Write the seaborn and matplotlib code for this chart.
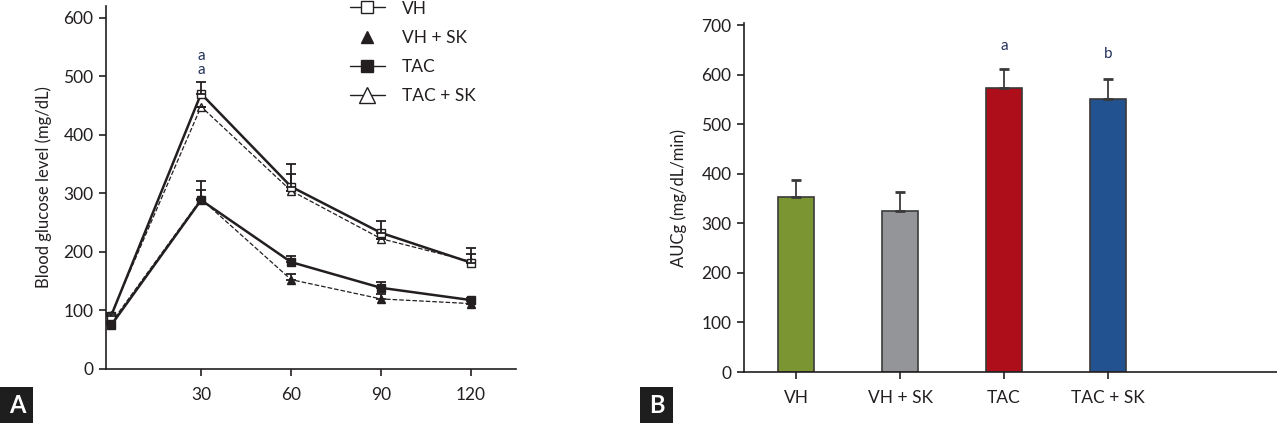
import numpy as np
import pandas as pd
import seaborn as sns
import matplotlib.pyplot as plt
from matplotlib.lines import Line2D
from matplotlib.patches import Rectangle

# Panel A: glucose tolerance curves
times = [0, 30, 60, 90, 120]
vh = [90, 470, 311, 232, 181]
vh_sk = [78, 290, 152, 119, 111]
tac = [74, 288, 182, 138, 117]
tac_sk = [92, 448, 304, 222, 183]
vh_err = [4, 20, 38, 20, 25]
vh_sk_err = [3, 15, 9, 9, 4]
tac_err = [3, 33, 10, 10, 4]
tac_sk_err = [3, 0, 29, 0, 12]

# Panel B: AUC
groups = ["VH", "VH + SK", "TAC", "TAC + SK"]
auc = [354, 325, 573, 551]
auc_err = [33, 38, 40, 40]
bar_colors = ["#7b9533", "#939598", "#ad0e1a", "#22528f"]
mark_groups = ["TAC", "TAC + SK"]
mark_labels = ["a", "b"]
mark_y = [659, 643]

ink = "#231f20"
mark_col = "#22305a"

sns.set_style("ticks")
plt.rcParams["font.family"] = ["Lato", "DejaVu Sans"]
plt.rcParams["text.color"] = ink
plt.rcParams["axes.labelcolor"] = ink
plt.rcParams["xtick.color"] = ink
plt.rcParams["ytick.color"] = ink
plt.rcParams["axes.edgecolor"] = ink

fig = plt.figure(figsize=(12.77, 4.23), dpi=100)
axA = fig.add_axes([106 / 1277, 1 - 368.5 / 423, 410 / 1277, 362.5 / 423])
axB = fig.add_axes([744 / 1277, 1 - 372 / 423, 533 / 1277, 349 / 423])

series = [
    ("VH", vh, vh_err, "s", "white", "-", 1.8),
    ("VH + SK", vh_sk, vh_sk_err, "^", ink, "--", 0.9),
    ("TAC", tac, tac_err, "s", ink, "-", 1.8),
    ("TAC + SK", tac_sk, tac_sk_err, "^", "white", "--", 0.9),
]

# dashed series first so the solid lines sit on top
for name, vals, err, mk, fc, ls, lw in [series[1], series[3], series[0], series[2]]:
    df = pd.DataFrame({"time": times, "glucose": vals})
    sns.lineplot(data=df, x="time", y="glucose", ax=axA, color=ink,
                 linestyle=ls, linewidth=lw, marker=mk, markersize=6,
                 markerfacecolor=fc, markeredgecolor=ink, markeredgewidth=1)
    axA.errorbar(times, vals, yerr=[np.zeros(len(err)), err], fmt="none",
                 ecolor=ink, elinewidth=1.3, capsize=3.3, capthick=1.3)

handles = [
    Line2D([], [], color=ink, lw=1, marker="s", markersize=8.5, markerfacecolor="white"),
    Line2D([], [], color=ink, lw=0, marker="^", markersize=9, markerfacecolor=ink),
    Line2D([], [], color=ink, lw=1, marker="s", markersize=8.5, markerfacecolor=ink),
    Line2D([], [], color=ink, lw=1, marker="^", markersize=11, markerfacecolor="white"),
]
axA.legend(handles, [s[0] for s in series], loc="upper left",
           bbox_to_anchor=(0.595, 1.015), frameon=False, fontsize=12.5,
           handlelength=2.0, handletextpad=1.0, labelspacing=0.75,
           borderpad=0, borderaxespad=0)

axA.text(30, 534, "a", ha="center", va="center", fontsize=11, color=mark_col)
axA.text(30, 510, "a", ha="center", va="center", fontsize=11, color=mark_col)

axA.set_xlim(-1.7, 135)
axA.set_ylim(0, 620)
axA.set_xticks([30, 60, 90, 120])
axA.set_yticks(range(0, 601, 100))
axA.set_xlabel("")
axA.set_ylabel("Blood glucose level (mg/dL)", fontsize=12, labelpad=8)

# Panel B bars
dfB = pd.DataFrame({"group": groups, "auc": auc})
sns.barplot(data=dfB, x="group", y="auc", hue="group", palette=bar_colors,
            saturation=1, legend=False, width=0.34, edgecolor="#3a3a3a",
            linewidth=1.2, ax=axB)
axB.errorbar(range(len(groups)), auc, yerr=[np.zeros(len(auc_err)), auc_err],
             fmt="none", ecolor="#3a3a3a", elinewidth=1.3, capsize=3.3, capthick=2,
             zorder=1)
for g, lab, y in zip(mark_groups, mark_labels, mark_y):
    axB.text(groups.index(g), y, lab, ha="center", va="center",
             fontsize=11, color=mark_col)

axB.set_xlim(-0.5, 4.625)
axB.set_ylim(0, 705)
axB.set_yticks(range(0, 701, 100))
axB.set_xlabel("")
axB.set_ylabel("AUCg (mg/dL/min)", fontsize=12, labelpad=10)

for ax in (axA, axB):
    sns.despine(ax=ax)
    ax.spines["left"].set_linewidth(1.2)
    ax.spines["bottom"].set_linewidth(1.2)
    ax.tick_params(axis="both", labelsize=12.5, length=5, width=1.2)
    ax.tick_params(axis="x", pad=8)
    ax.tick_params(axis="y", pad=4)

# panel letters
for x0, letter in [(0, "A"), (640, "B")]:
    fig.patches.append(Rectangle((x0 / 1277, 0), 33 / 1277, 36 / 423,
                                 transform=fig.transFigure, facecolor="#1e1e1e",
                                 edgecolor="none"))
    fig.text((x0 + 17) / 1277, 18 / 423, letter, color="white", fontsize=17,
             fontweight="bold", ha="center", va="center")

fig.savefig("out.png", dpi=100)
